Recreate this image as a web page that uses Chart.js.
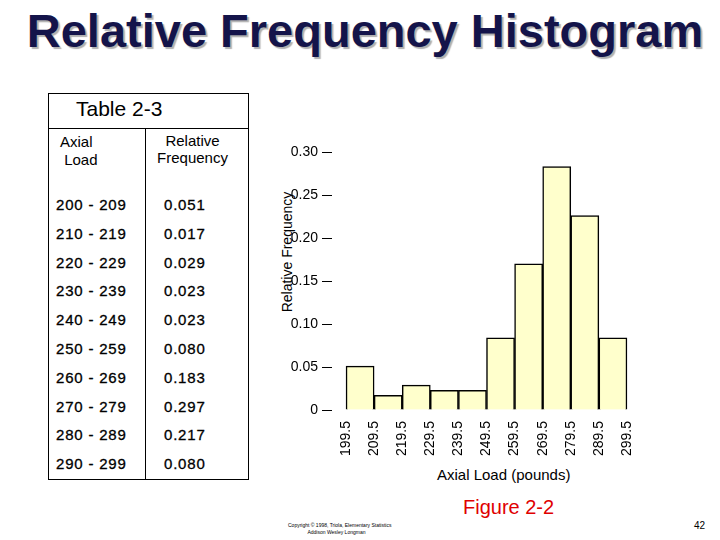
<!DOCTYPE html>
<html><head><meta charset="utf-8">
<script src="https://cdn.jsdelivr.net/npm/chart.js@4"></script>
<style>
body{margin:0;width:720px;height:540px;position:relative;background:#fff;font-family:"Liberation Sans",Arial,sans-serif;overflow:hidden}
.a{position:absolute;white-space:nowrap}
#c{position:absolute;left:0;top:0}
</style></head><body>
<div class="a" style="left:0;width:730px;top:3px;text-align:center;font-size:47px;font-weight:bold;color:#14144a;text-shadow:2px 2px 1px #b0b0b0">Relative Frequency Histogram</div>
<div class="a" style="left:48px;top:93px;width:199px;height:386px;border:1px solid #000;border-top:none"></div>
<div class="a" style="left:48px;top:93px;width:199px;height:34px;border:1px solid #000"></div>
<div class="a" style="left:76px;top:97px;font-size:21px">Table 2-3</div>
<div class="a" style="left:145px;top:128px;width:1px;height:352px;background:#000"></div>
<div class="a" style="left:60px;top:133px;font-size:15px;line-height:18px">Axial<br>&nbsp;Load</div>
<div class="a" style="left:150px;top:132px;width:85px;text-align:center;font-size:15px;line-height:17px">Relative<br>Frequency</div>
<div id="rows"></div>
<div class="a" style="left:287px;top:252px;transform:translate(-50%,-50%) rotate(-90deg);font-size:14px">Relative Frequency</div>
<div class="a" style="left:437px;top:466px;font-size:15px">Axial Load (pounds)</div>
<div class="a" style="left:463px;top:496px;font-size:20px;color:#e00000">Figure 2-2</div>
<div class="a" style="left:288px;top:522px;font-size:5px;line-height:7px">Copyright © 1998, Triola, Elementary Statistics<br>&nbsp;&nbsp;&nbsp;&nbsp;&nbsp;&nbsp;&nbsp;&nbsp;&nbsp;&nbsp;&nbsp;&nbsp;&nbsp;&nbsp;Addison Wesley Longman</div>
<div class="a" style="left:694px;top:520px;font-size:10px">42</div>
<canvas id="c" width="720" height="540"></canvas>
<script>
const tableClasses=["200 - 209","210 - 219","220 - 229","230 - 239","240 - 249","250 - 259","260 - 269","270 - 279","280 - 289","290 - 299"];
const tableFreq=["0.051","0.017","0.029","0.023","0.023","0.080","0.183","0.297","0.217","0.080"];
const boundaries=[199.5,209.5,219.5,229.5,239.5,249.5,259.5,269.5,279.5,289.5,299.5];
const barHeights=[0.051,0.017,0.029,0.023,0.023,0.084,0.170,0.283,0.226,0.084];
const yTicks=[0,0.05,0.10,0.15,0.20,0.25,0.30];

let h='';
tableClasses.forEach((c,i)=>{const y=196+i*28.8;
h+=`<div class="a" style="left:56px;top:${y}px;font-size:15px;letter-spacing:0.8px;-webkit-text-stroke:0.3px #000">${c}</div><div class="a" style="left:164px;top:${y}px;font-size:15px;letter-spacing:0.8px;-webkit-text-stroke:0.3px #000">${tableFreq[i]}</div>`;});
document.getElementById('rows').innerHTML=h;

const pts=barHeights.map((v,i)=>({x:(boundaries[i]+boundaries[i+1])/2,y:v}));
new Chart(document.getElementById('c'),{type:'bar',
data:{datasets:[{data:pts,backgroundColor:'#ffffcc',borderColor:'#000',borderWidth:1.5,barPercentage:1,categoryPercentage:1}]},
options:{responsive:false,animation:false,layout:{padding:{left:257,right:79,top:152,bottom:0}},
plugins:{legend:{display:false},tooltip:{enabled:false}},
scales:{
x:{type:'linear',min:199.5,max:299.5,afterBuildTicks:s=>{s.ticks=boundaries.map(v=>({value:v}))},afterFit:s=>{s.height=130},
 grid:{display:false},border:{display:false},
 ticks:{minRotation:90,maxRotation:90,color:'#000',font:{family:'Liberation Sans',size:14},callback:v=>v.toFixed(1)}},
y:{min:0,max:0.30,afterBuildTicks:s=>{s.ticks=yTicks.map(v=>({value:v}))},afterFit:s=>{s.width=75},
 grid:{drawOnChartArea:false,tickLength:10,color:'#000'},border:{display:false},
 ticks:{color:'#000',padding:4,font:{family:'Liberation Sans',size:14},callback:v=>v===0?'0':v.toFixed(2)}}}}});
</script></body></html>
